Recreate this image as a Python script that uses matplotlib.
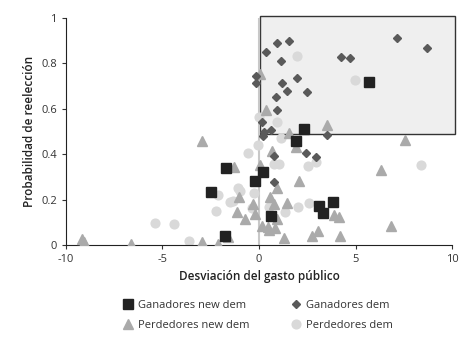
import matplotlib.pyplot as plt
from matplotlib.patches import Rectangle

plt.rcParams['font.family'] = ['Open Sans', 'DejaVu Sans']

# Ganadores new dem
gn_x = [5.68, 2.33, 1.90, -1.71, 0.22, -0.19, -2.49, 3.12, 3.82, 3.33, 0.62, -1.78]
gn_y = [0.720, 0.509, 0.458, 0.338, 0.323, 0.282, 0.234, 0.173, 0.188, 0.142, 0.128, 0.041]

# Ganadores dem
gd_x = [7.17, 8.72, 1.54, 0.93, 0.35, 1.12, 4.23, 4.73, -0.14, -0.17, 1.99, 1.19, 1.43,
        2.49, 0.86, 0.95, 0.16, 0.28, 0.19, 0.64, 3.54, 2.45, 2.94, 0.79, 0.79]
gd_y = [0.912, 0.869, 0.897, 0.890, 0.849, 0.812, 0.829, 0.824, 0.743, 0.712, 0.734, 0.712, 0.679,
        0.674, 0.651, 0.597, 0.541, 0.496, 0.482, 0.507, 0.484, 0.404, 0.387, 0.394, 0.279]

# Perdedores new dem
pn_x = [0.03, 0.36, 3.54, 1.55, 7.55, -2.97, 1.90, 0.66, 0.05, -1.30, 6.34, 2.07, 0.92,
        -1.02, 0.57, 0.79, 1.43, -0.30, -1.13, -0.21, -0.73, 0.92, 3.87, 4.13, 0.17, 0.48,
        0.83, 0.53, 3.07, 2.75, 6.82, -1.59, 1.30, 4.18, -9.15, -9.08, -6.65, -2.97, -2.11]
pn_y = [0.753, 0.596, 0.528, 0.493, 0.463, 0.457, 0.430, 0.414, 0.352, 0.342, 0.328, 0.283, 0.252,
        0.210, 0.213, 0.180, 0.186, 0.179, 0.147, 0.137, 0.115, 0.115, 0.131, 0.124, 0.084, 0.081,
        0.076, 0.066, 0.063, 0.041, 0.082, 0.034, 0.030, 0.037, 0.028, 0.012, 0.004, 0.012, 0.003]

# Perdedores dem
pd_x = [1.99, 4.96, -0.02, 0.92, 1.14, -0.07, -0.57, 8.38, 0.78, 1.04, 2.55, 2.95, -1.07,
        -0.98, -0.24, -2.11, -1.33, -1.50, -0.38, 0.53, 1.36, 2.00, 2.60, -2.24, -5.39, -4.42, -3.63]
pd_y = [0.834, 0.728, 0.566, 0.543, 0.470, 0.440, 0.407, 0.352, 0.355, 0.357, 0.350, 0.364, 0.250,
        0.239, 0.228, 0.220, 0.194, 0.190, 0.162, 0.169, 0.147, 0.166, 0.184, 0.151, 0.098, 0.091, 0.018]

fig = plt.figure(figsize=(4.67, 3.42), dpi=100)
ax = fig.add_axes([0.141, 0.284, 0.827, 0.663])

ax.add_patch(Rectangle((0.05, 0.49), 10.1, 0.52, facecolor='#efefef', edgecolor='#333333',
                       linewidth=1.0, clip_on=False, zorder=0))
ax.axvline(0, color='#c8c8c8', linewidth=1.5, zorder=1)

ax.plot(pd_x, pd_y, 'o', color='#d9d9d9', markersize=6.3, linestyle='none', zorder=2, label='Perdedores dem')
ax.plot(pn_x, pn_y, '^', color='#aaaaaa', markersize=6.5, linestyle='none', zorder=3, label='Perdedores new dem')
ax.plot(gd_x, gd_y, 'D', color='#5a5a5a', markersize=4.5, linestyle='none', zorder=4, label='Ganadores dem')
ax.plot(gn_x, gn_y, 's', color='#222222', markersize=7, linestyle='none', zorder=5, label='Ganadores new dem')

ax.set_xlim(-10, 10)
ax.set_ylim(0, 1)
ax.set_xticks([-10, -5, 0, 5, 10])
ax.set_xticklabels(['-10', '-5', '0', '5', '10'])
ax.set_yticks([0, 0.2, 0.4, 0.6, 0.8, 1])
ax.set_yticklabels(['0', '0.2', '0.4', '0.6', '0.8', '1'])
ax.tick_params(labelsize=8, length=3, color='#333333', labelcolor='#333333')
for s in ['top', 'right']:
    ax.spines[s].set_visible(False)
ax.spines['left'].set_color('#222222')
ax.spines['bottom'].set_color('#222222')

ax.set_xlabel('Desviación del gasto público', fontsize=8.5, fontweight='semibold', color='#222222')
ax.set_ylabel('Probabilidad de reelección', fontsize=8.5, fontweight='semibold', color='#222222')

h, l = ax.get_legend_handles_labels()
order = [3, 1, 2, 0]
fig.legend([h[i] for i in order], [l[i] for i in order], ncol=2, loc='center',
           bbox_to_anchor=(0.55, 0.078), frameon=False, fontsize=8, handletextpad=0.3,
           columnspacing=3.6, labelspacing=0.85, handlelength=1.2, labelcolor='#333333')

fig.savefig('out.png', dpi=100)
